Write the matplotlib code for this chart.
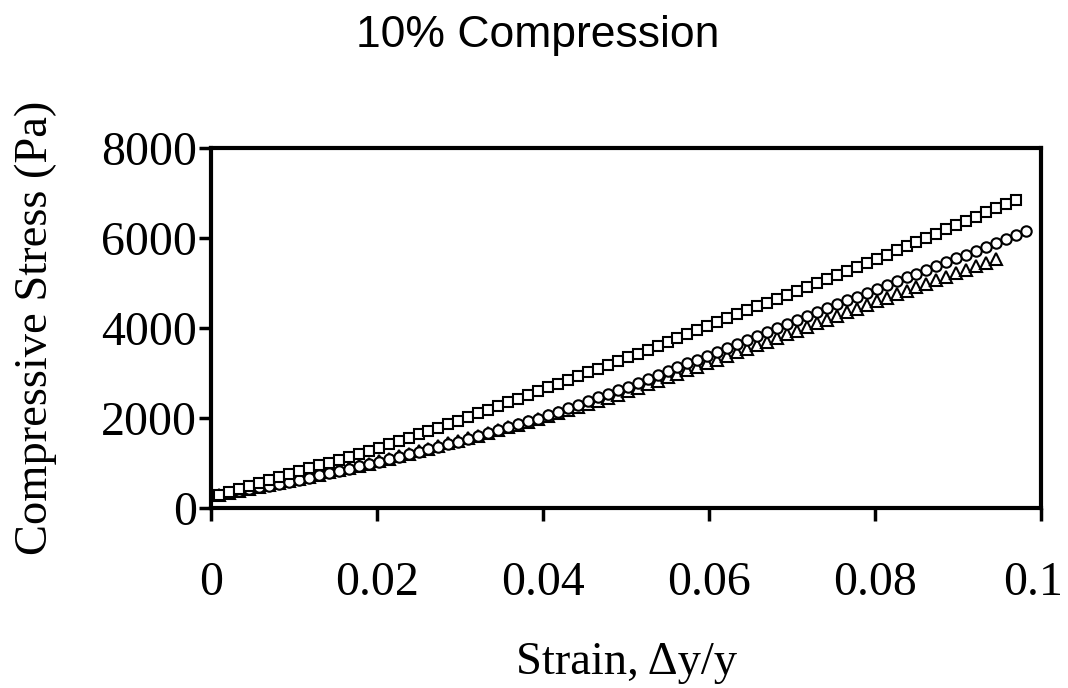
import matplotlib
matplotlib.use("Agg")
import matplotlib.pyplot as plt
import matplotlib.transforms as mtransforms

# strain values (shared x grid)
strain = [0.0010, 0.0022, 0.0034, 0.0046, 0.0058, 0.0070, 0.0082, 0.0094, 0.0106, 0.0118,
          0.0130, 0.0142, 0.0154, 0.0166, 0.0178, 0.0190, 0.0202, 0.0214, 0.0226, 0.0238,
          0.0250, 0.0262, 0.0274, 0.0286, 0.0298, 0.0310, 0.0322, 0.0334, 0.0346, 0.0358,
          0.0370, 0.0382, 0.0394, 0.0406, 0.0418, 0.0430, 0.0442, 0.0454, 0.0466, 0.0478,
          0.0490, 0.0502, 0.0514, 0.0526, 0.0538, 0.0550, 0.0562, 0.0574, 0.0586, 0.0598,
          0.0610, 0.0622, 0.0634, 0.0646, 0.0658, 0.0670, 0.0682, 0.0694, 0.0706, 0.0718,
          0.0730, 0.0742, 0.0754, 0.0766, 0.0778, 0.0790, 0.0802, 0.0814, 0.0826, 0.0838,
          0.0850, 0.0862, 0.0874, 0.0886, 0.0898, 0.0910, 0.0922, 0.0934, 0.0946, 0.0958,
          0.0970, 0.0982]

# square series (upper curve)
stress_sq = [300, 364, 428, 492, 556, 620, 684, 748, 813, 879,
             945, 1011, 1077, 1143, 1209, 1275, 1342, 1417, 1491, 1566,
             1640, 1714, 1789, 1863, 1938, 2019, 2102, 2185, 2267, 2350,
             2433, 2516, 2599, 2681, 2764, 2847, 2930, 3013, 3095, 3178,
             3261, 3345, 3432, 3520, 3607, 3695, 3783, 3870, 3958, 4045,
             4132, 4218, 4305, 4391, 4478, 4564, 4650, 4737, 4824, 4913,
             5002, 5091, 5180, 5268, 5357, 5446, 5536, 5629, 5723, 5816,
             5910, 6004, 6097, 6191, 6284, 6379, 6473, 6567, 6662, 6756,
             6850]

# circle series
stress_circ = [300, 340, 380, 420, 460, 500, 540, 580, 625, 676,
               726, 776, 827, 877, 928, 978, 1029, 1084, 1140, 1195,
               1250, 1305, 1360, 1416, 1471, 1534, 1599, 1664, 1728, 1793,
               1858, 1923, 1988, 2060, 2139, 2218, 2297, 2376, 2456, 2535,
               2614, 2694, 2781, 2867, 2954, 3040, 3126, 3213, 3299, 3386,
               3473, 3561, 3648, 3736, 3823, 3911, 3999, 4086, 4174, 4261,
               4349, 4437, 4524, 4612, 4699, 4787, 4874, 4958, 5042, 5126,
               5210, 5294, 5378, 5462, 5546, 5632, 5718, 5805, 5891, 5977,
               6064, 6150]

# triangle series
stress_tri = [300, 343, 385, 428, 471, 513, 556, 599, 645, 694,
              743, 792, 841, 891, 940, 989, 1039, 1096, 1152, 1209,
              1265, 1321, 1378, 1434, 1491, 1550, 1610, 1670, 1730, 1790,
              1850, 1910, 1970, 2035, 2104, 2174, 2244, 2313, 2383, 2452,
              2522, 2593, 2671, 2749, 2827, 2905, 2983, 3061, 3139, 3217,
              3297, 3377, 3458, 3538, 3619, 3699, 3779, 3860, 3941, 4022,
              4104, 4186, 4267, 4349, 4430, 4512, 4593, 4671, 4749, 4827,
              4905, 4983, 5061, 5139, 5217, 5295, 5373, 5451, 5529]

x_ticks = [0, 0.02, 0.04, 0.06, 0.08, 0.1]
x_tick_labels = ["0", "0.02", "0.04", "0.06", "0.08", "0.1"]
y_ticks = [0, 2000, 4000, 6000, 8000]

serif = "Liberation Serif"
fs = 34.5

fig = plt.figure(figsize=(10.68, 6.88), dpi=100)
ax = fig.add_axes([0.1976, 0.2616, 0.7771, 0.5233])

mk = dict(linestyle="none", markerfacecolor="white", markeredgecolor="black",
          markeredgewidth=1.5, clip_on=False)
ax.plot(strain[:len(stress_tri)], stress_tri, marker="^", markersize=8.5, **mk)
ax.plot(strain[:len(stress_circ)], stress_circ, marker="o", markersize=7.5, **mk)
ax.plot(strain[:len(stress_sq)], stress_sq, marker="s", markersize=7.5, **mk)

ax.set_xlim(0, 0.1)
ax.set_ylim(0, 8000)
ax.set_xticks(x_ticks)
ax.set_xticklabels(x_tick_labels, fontfamily=serif, fontsize=fs)
ax.set_yticks(y_ticks)
ax.set_yticklabels([str(v) for v in y_ticks], fontfamily=serif, fontsize=fs)

for s in ax.spines.values():
    s.set_linewidth(3)
ax.tick_params(axis="both", direction="out", length=9, width=2.5)
ax.tick_params(axis="x", pad=29)
ax.tick_params(axis="y", pad=1)

# nudge the last x label so it stays inside the figure
last = ax.xaxis.get_major_ticks()[-1].label1
last.set_transform(last.get_transform() +
                   mtransforms.ScaledTranslation(-8 / 100, 0, fig.dpi_scale_trans))

ax.set_xlabel("Strain, \u0394y/y", fontfamily=serif, fontsize=33.5)
ax.xaxis.set_label_coords(0.5, -0.37)
ax.set_ylabel("Compressive Stress (Pa)", fontfamily=serif, fontsize=33.5)
ax.yaxis.set_label_coords(-0.185, 0.5)

fig.text(0.503, 0.948, "10% Compression", ha="center", va="center",
         fontfamily="Liberation Sans", fontsize=32)

fig.savefig("out.png", dpi=100)
